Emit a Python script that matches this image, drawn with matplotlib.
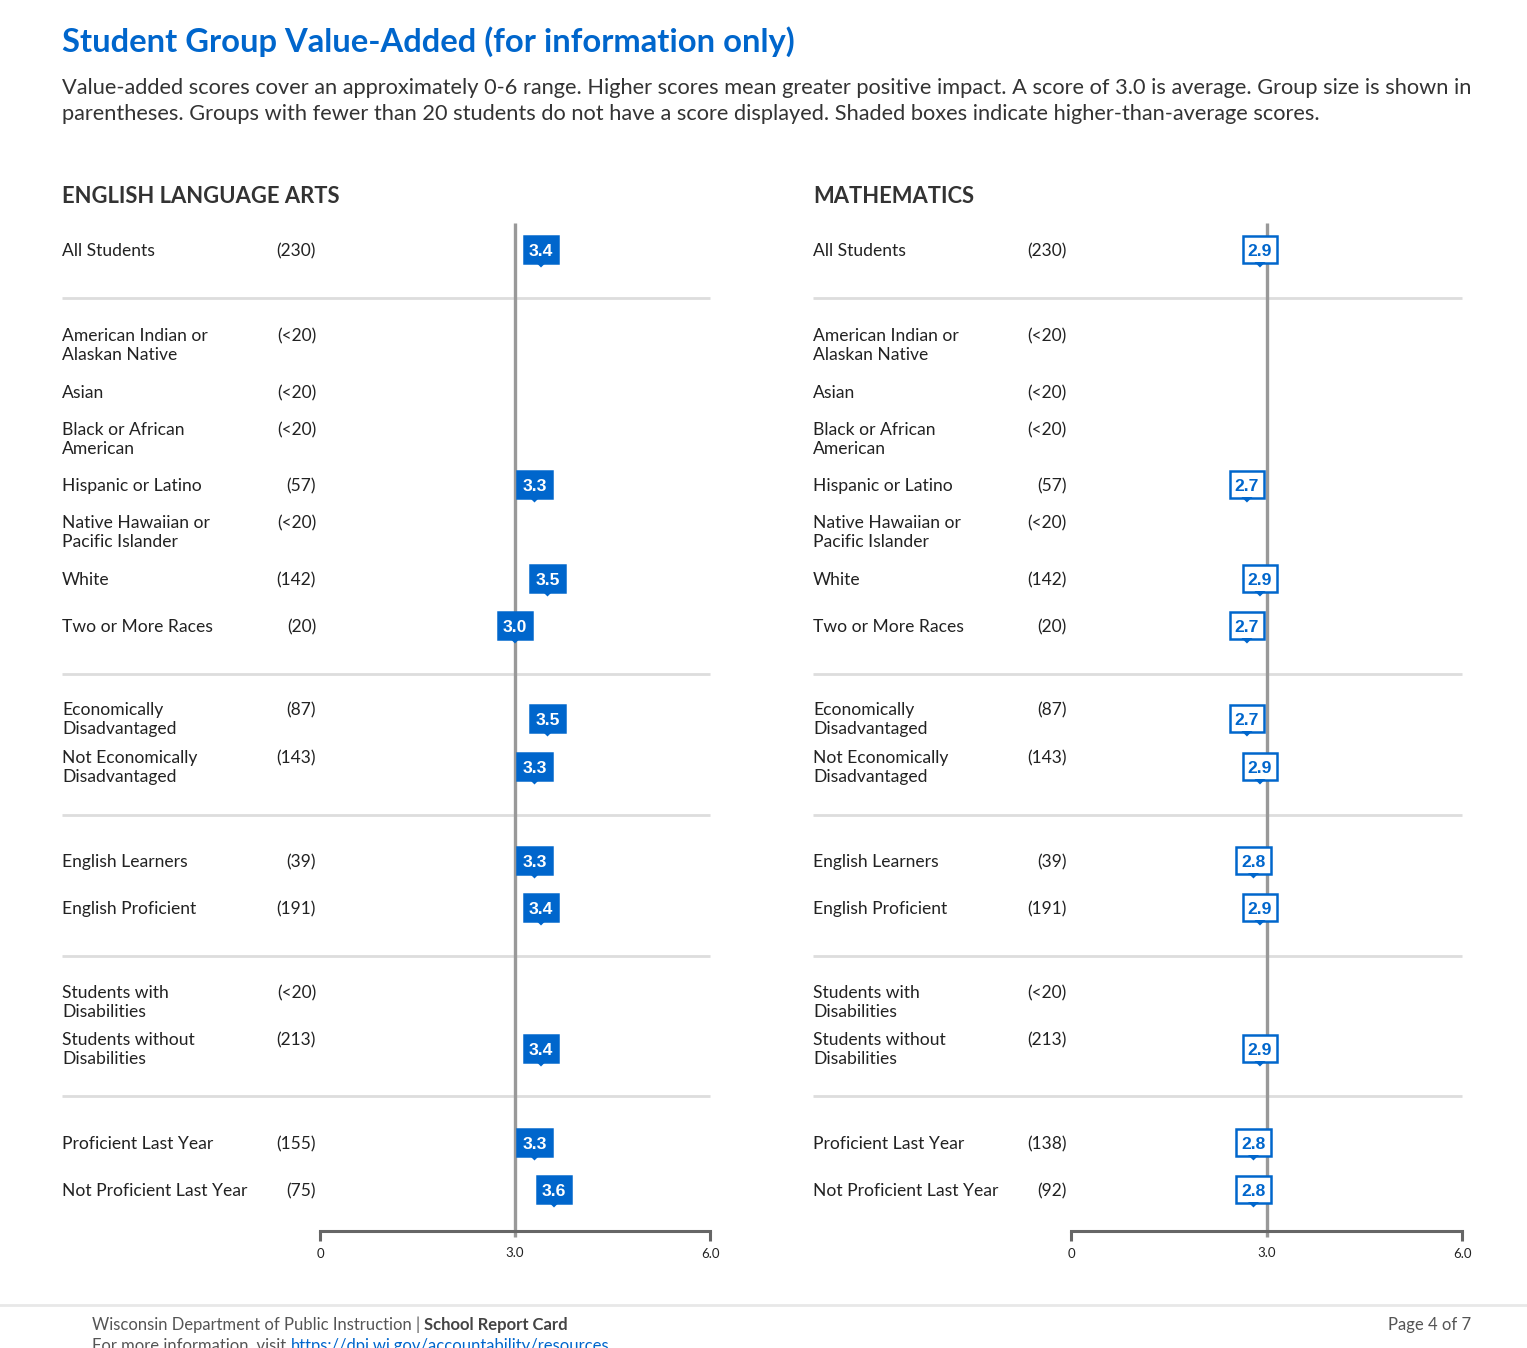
import matplotlib
matplotlib.use('Agg')
import matplotlib.pyplot as plt
from matplotlib.patches import Rectangle, Polygon

plt.rcParams['font.family'] = ['Lato', 'DejaVu Sans']

# groups shown in both panels (same order)
groups = [
    'All Students',
    'American Indian or\nAlaskan Native', 'Asian', 'Black or African\nAmerican',
    'Hispanic or Latino', 'Native Hawaiian or\nPacific Islander', 'White',
    'Two or More Races',
    'Economically\nDisadvantaged', 'Not Economically\nDisadvantaged',
    'English Learners', 'English Proficient',
    'Students with\nDisabilities', 'Students without\nDisabilities',
    'Proficient Last Year', 'Not Proficient Last Year',
]

ela_counts = ['(230)', '(<20)', '(<20)', '(<20)', '(57)', '(<20)', '(142)', '(20)',
              '(87)', '(143)', '(39)', '(191)', '(<20)', '(213)', '(155)', '(75)']
ela_scores = [3.4, None, None, None, 3.3, None, 3.5, 3.0,
              3.5, 3.3, 3.3, 3.4, None, 3.4, 3.3, 3.6]

math_counts = ['(230)', '(<20)', '(<20)', '(<20)', '(57)', '(<20)', '(142)', '(20)',
               '(87)', '(143)', '(39)', '(191)', '(<20)', '(213)', '(138)', '(92)']
math_scores = [2.9, None, None, None, 2.7, None, 2.9, 2.7,
               2.7, 2.9, 2.8, 2.9, None, 2.9, 2.8, 2.8]

average = 3.0

# layout (pixels from the top of the page)
W, H = 1527, 1348
row_base = [256, 341, 398, 435, 491, 528, 585, 632, 715, 763, 867, 914, 998, 1045, 1149, 1196]
sep_y = [298, 674, 815, 956, 1096]
line_gap = 19
top_y, axis_y = 223, 1231
blue = '#0066cc'

fig = plt.figure(figsize=(W / 100, H / 100), dpi=100)
bg = fig.add_axes([0, 0, 1, 1])
bg.set_xlim(0, W)
bg.set_ylim(H, 0)
bg.axis('off')

bg.text(62, 52, 'Student Group Value-Added (for information only)', color=blue,
        fontsize=23.6, fontweight='bold', va='baseline')
bg.text(62, 94, 'Value-added scores cover an approximately 0-6 range. Higher scores mean '
        'greater positive impact. A score of 3.0 is average. Group size is shown in',
        color='#333333', fontsize=15.7, va='baseline')
bg.text(62, 120, 'parentheses. Groups with fewer than 20 students do not have a score '
        'displayed. Shaded boxes indicate higher-than-average scores.',
        color='#333333', fontsize=15.7, va='baseline')


def draw_panel(title, counts, scores, label_x, count_x, ax_x0, ax_x1):
    bg.text(label_x, 203, title, color='#333333', fontsize=15.8, fontweight='bold',
            va='baseline')
    for y in sep_y:
        bg.plot([label_x, ax_x1], [y, y], color='#dddddd', lw=2, solid_capstyle='butt')
    for name, cnt, yb in zip(groups, counts, row_base):
        for i, line in enumerate(name.split('\n')):
            bg.text(label_x, yb + i * line_gap, line, color='#222222', fontsize=12.6,
                    va='baseline')
        bg.text(count_x, yb, cnt, color='#222222', fontsize=12.5, va='baseline', ha='right')

    pax = fig.add_axes([ax_x0 / W, (H - axis_y) / H, (ax_x1 - ax_x0) / W,
                        (axis_y - top_y) / H])
    pax.set_xlim(0, 6)
    pax.set_ylim(axis_y, top_y)
    pax.patch.set_visible(False)
    for s in ['top', 'left', 'right']:
        pax.spines[s].set_visible(False)
    pax.spines['bottom'].set_color('#666666')
    pax.spines['bottom'].set_linewidth(2.2)
    pax.set_yticks([])
    pax.set_xticks([0, 6], labels=['0', '6.0'])
    pax.set_xticks([average], labels=['3.0'], minor=True)
    pax.tick_params(axis='x', which='major', length=7.5, width=2.2, color='#666666',
                    pad=4.5, labelsize=9.5, labelcolor='#222222')
    pax.tick_params(axis='x', which='minor', length=0, pad=11.5, labelsize=9.5,
                    labelcolor='#222222')
    pax.plot([average, average], [top_y, axis_y + 6], color='#999999', lw=2.4,
             clip_on=False, zorder=1, solid_capstyle='butt')

    bw = 0.53
    for name, v, yb in zip(groups, scores, row_base):
        if v is None:
            continue
        yc = yb + 3 if '\n' in name else yb - 7
        filled = v >= average
        pax.add_patch(Rectangle((v - bw / 2, yc - 13.5), bw, 27,
                                facecolor=blue if filled else 'white',
                                edgecolor=blue, lw=1.8, zorder=3, clip_on=False))
        pax.add_patch(Polygon([(v - 0.085, yc + 13), (v + 0.085, yc + 13), (v, yc + 18.5)],
                              closed=True, facecolor=blue, edgecolor='none', zorder=3,
                              clip_on=False))
        pax.text(v, yc + 2, f'{v:.1f}', ha='center', va='center', zorder=4,
                 color='white' if filled else blue, fontsize=12.6, fontweight='bold',
                 family=['Liberation Sans', 'DejaVu Sans'])


draw_panel('ENGLISH LANGUAGE ARTS', ela_counts, ela_scores, 62, 316, 320, 710)
draw_panel('MATHEMATICS', math_counts, math_scores, 813, 1067, 1071, 1462)

# footer
bg.plot([0, W], [1305, 1305], color='#e8e8e8', lw=2)
t = bg.text(92, 1330, 'Wisconsin Department of Public Instruction | ', color='#555555',
            fontsize=12.0, va='baseline')
bg.annotate('School Report Card', xycoords=t, xy=(1, 0), va='bottom',
            color='#444444', fontsize=12.0, fontweight='bold')
t2 = bg.text(92, 1351, 'For more information, visit ', color='#555555',
             fontsize=12.0, va='baseline')
bg.annotate('https://dpi.wi.gov/accountability/resources', xycoords=t2, xy=(1, 0),
            va='bottom', color=blue, fontsize=12.0)
bg.text(1471, 1330, 'Page 4 of 7', color='#555555', fontsize=12.0, va='baseline',
        ha='right')

fig.savefig('out.png', dpi=100)
